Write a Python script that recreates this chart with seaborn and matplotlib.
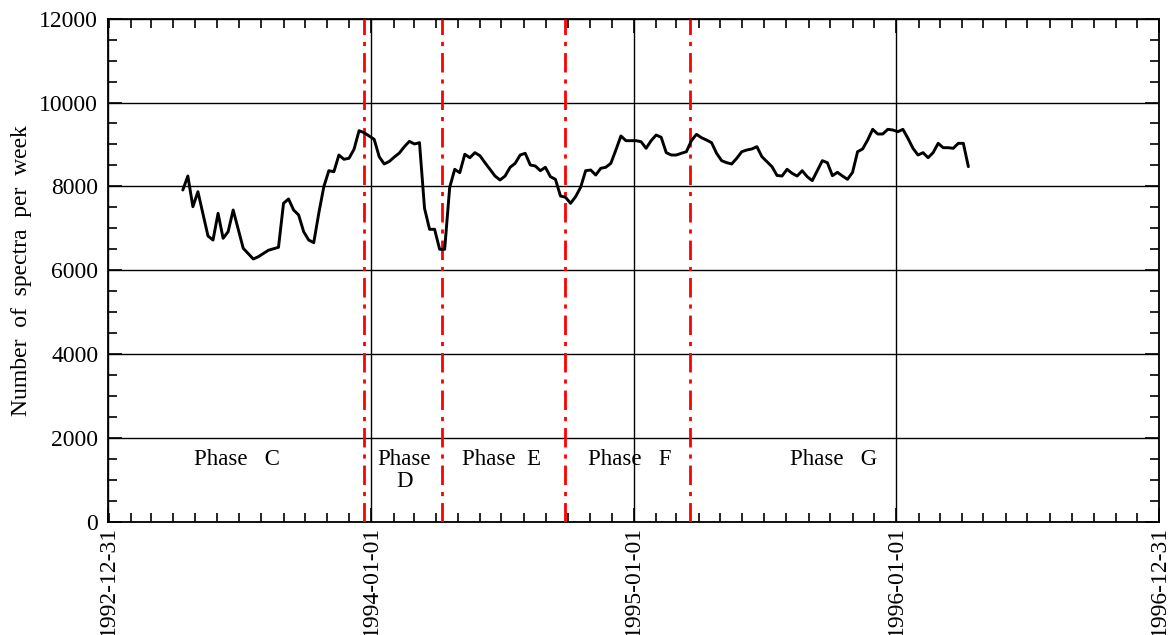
import numpy as np
import pandas as pd
import matplotlib
matplotlib.use("Agg")
import matplotlib.pyplot as plt
import matplotlib.dates as mdates
from matplotlib.ticker import MultipleLocator
import seaborn as sns

# Weekly spectra counts; week_number counts weeks from start_date
start_date = "1993-04-14"
week_number = [
    0, 1, 2, 3, 5, 6, 7, 8, 9, 10, 12, 14, 15, 17, 19,
    20, 21, 22, 23, 24, 25, 26, 27, 28, 29, 30, 31, 32, 33, 34, 35, 36, 37, 38, 39,
    40, 41, 42, 43, 44, 45, 46, 47, 48, 49, 50, 51, 52, 53, 54, 55, 56, 57, 58, 59,
    60, 61, 62, 63, 64, 65, 66, 67, 68, 69, 70, 71, 72, 73, 74, 75, 76, 77, 78, 79,
    80, 81, 82, 83, 84, 85, 86, 87, 88, 89, 90, 91, 92, 93, 94, 95, 96, 97, 98, 99,
    100, 101, 102, 103, 104, 105, 106, 107, 108, 109, 110, 111, 112, 113, 114, 115,
    116, 117, 118, 119, 120, 121, 122, 123, 124, 125, 126, 127, 128, 129, 130, 131,
    132, 133, 134, 135, 136, 137, 138, 139, 140, 141, 142, 143, 144, 145, 146, 147,
    148, 149, 150, 151, 152, 153, 154, 155, 156,
]
spectra_per_week = [
    7913, 8247, 7515, 7873, 6816, 6720, 7357, 6761, 6919, 7436, 6522, 6267, 6322, 6476, 6546,
    7596, 7699, 7436, 7317, 6919, 6720, 6656, 7357, 7992, 8374, 8350, 8748, 8646, 8670, 8884,
    9328, 9281, 9202, 9123, 8708,
    8534, 8595, 8700, 8795, 8947, 9075, 9011, 9042, 7477, 6976, 6976, 6499, 6499, 7978, 8407,
    8326, 8765, 8684, 8804, 8732,
    8565, 8407, 8247, 8152, 8247, 8455, 8550, 8748, 8789, 8510, 8486, 8374, 8455, 8231, 8168,
    7770, 7739, 7596, 7754, 7978,
    8374, 8390, 8271, 8431, 8455, 8550, 8868, 9202, 9090, 9090, 9090, 9066, 8908, 9090, 9225,
    9170, 8804, 8748, 8748, 8789,
    8827, 9090, 9242, 9161, 9106, 9042, 8789, 8613, 8565, 8534, 8670, 8827, 8868, 8892, 8947,
    8708,
    8589, 8470, 8260, 8247, 8407, 8311, 8247, 8374, 8231, 8136, 8374, 8613, 8565, 8255, 8335,
    8247,
    8168, 8335, 8827, 8892, 9106, 9361, 9249, 9249, 9361, 9345, 9304, 9361, 9146, 8908, 8748,
    8804,
    8684, 8804, 9027, 8923, 8923, 8908, 9027, 9027, 8470,
]

# Phase boundaries and labels
phase_bounds = ["1993-12-22", "1994-04-09", "1994-09-27", "1995-03-20"]
phase_labels = ["Phase   C", "Phase\nD", "Phase  E", "Phase   F", "Phase   G"]
phase_label_dates = ["1993-06-28", "1994-02-16", "1994-07-01", "1994-12-26", "1995-10-05"]
phase_label_y = 1730

x_tick_dates = ["1992-12-31", "1994-01-01", "1995-01-01", "1996-01-01", "1996-12-31"]
y_limits = (0, 12000)

sns.set_theme(style="ticks")
plt.rcParams["font.family"] = ["Liberation Serif", "DejaVu Serif"]
for key in ("text.color", "axes.labelcolor", "xtick.color", "ytick.color", "axes.edgecolor"):
    plt.rcParams[key] = "black"

df = pd.DataFrame({
    "date": pd.Timestamp(start_date) + pd.to_timedelta(np.array(week_number) * 7, unit="D"),
    "spectra": spectra_per_week,
})

W, H = 1168, 635
fig = plt.figure(figsize=(W / 100, H / 100), dpi=100)
ax = fig.add_axes([108 / W, 1 - 521.7 / H, (1159 - 108) / W, (521.7 - 18.7) / H])

sns.lineplot(data=df, x="date", y="spectra", ax=ax, color="black", lw=2.1,
             estimator=None, sort=False, zorder=4)

for d in phase_bounds:
    ax.axvline(pd.Timestamp(d), color="#ff0000", lw=2.0,
               ls=(0, (7, 2.5, 1.5, 2.5)), zorder=3)

for lab, d in zip(phase_labels, phase_label_dates):
    ax.text(pd.Timestamp(d), phase_label_y, lab, ha="center", va="top",
            fontsize=16.5, linespacing=1.05, zorder=5)

tick_nums = [mdates.date2num(pd.Timestamp(d)) for d in x_tick_dates]
ax.set_xlim(tick_nums[0], tick_nums[-1])
ax.set_xticks(tick_nums)
ax.set_xticklabels(x_tick_dates, rotation=90)
ax.xaxis.set_minor_locator(mdates.MonthLocator())

ax.set_ylim(*y_limits)
ax.yaxis.set_major_locator(MultipleLocator(2000))
ax.yaxis.set_minor_locator(MultipleLocator(500))

ax.grid(True, which="major", color="black", lw=1.0, zorder=1)
ax.set_axisbelow(True)

ax.tick_params(which="both", direction="in", top=True, right=True,
               colors="black", width=1.2)
ax.tick_params(which="major", length=10, labelsize=17)
ax.tick_params(axis="y", which="major", pad=7)
ax.tick_params(axis="x", which="major", pad=3)
ax.tick_params(which="minor", length=6.5)
for s in ax.spines.values():
    s.set_color("black")
    s.set_linewidth(1.3)

ax.set_xlabel("")
ax.set_ylabel("Number  of  spectra  per  week", fontsize=17, labelpad=5)

fig.savefig("out.png", dpi=100)
